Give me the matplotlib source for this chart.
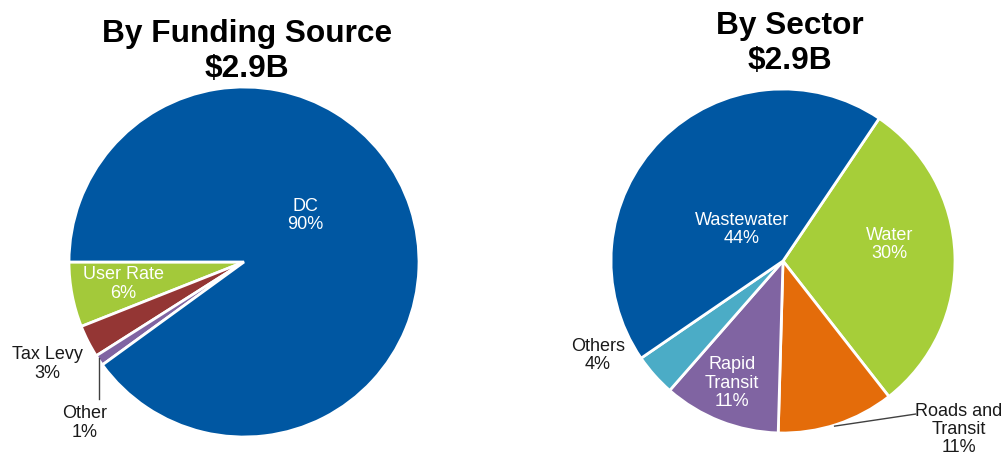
import matplotlib
matplotlib.use("Agg")
import matplotlib.pyplot as plt

plt.rcParams['font.family'] = ['Liberation Sans', 'DejaVu Sans']

# ---- data ----
fund_labels = ["User Rate", "Tax Levy", "Other", "DC"]
fund_values = [6, 3, 1, 90]
fund_colors = ["#A3C93A", "#943634", "#8064A2", "#0057A2"]

sector_labels = ["Water", "Roads and\nTransit", "Rapid\nTransit", "Others", "Wastewater"]
sector_values = [30, 11, 11, 4, 44]
sector_colors = ["#A6CE39", "#E46C0A", "#8064A2", "#4BACC6", "#0057A2"]

title_left = "By Funding Source"
title_right = "By Sector"
total_text = "$2.9B"

W, H = 1003, 456
fig = plt.figure(figsize=(W / 100, H / 100), dpi=100)


def px_axes(cx, cy, r):
    return fig.add_axes([(cx - r) / W, (H - cy - r) / H, 2 * r / W, 2 * r / H])


FS = 13.0
wedge = dict(edgecolor="white", linewidth=2)

# ---- left pie ----
ax1 = px_axes(244, 263, 175)
ax1.pie(fund_values, colors=fund_colors, startangle=180, counterclock=True,
        radius=1, wedgeprops=wedge)
ax1.set_xlim(-1, 1)
ax1.set_ylim(-1, 1)
ax1.set_aspect("equal")
ax1.axis("off")

def lbl(ax, x, y, name, val, color):
    ax.text(x, y, f"{name}\n{val}%", ha="center", va="center", fontsize=FS,
            color=color, linespacing=1.1, clip_on=False)

lbl(ax1, 0.35, 0.27, fund_labels[3], fund_values[3], "white")
lbl(ax1, -0.69, -0.12, fund_labels[0], fund_values[0], "white")
lbl(ax1, -1.123, -0.577, fund_labels[1], fund_values[1], "#1a1a1a")
lbl(ax1, -0.91, -0.914, fund_labels[2], fund_values[2], "#1a1a1a")
ax1.plot([-0.83, -0.83], [-0.55, -0.78], color="#404040", lw=1, clip_on=False)

# ---- right pie ----
ax2 = px_axes(783, 262, 172)
ax2.pie(sector_values, colors=sector_colors, startangle=56, counterclock=False,
        radius=1, wedgeprops=wedge)
ax2.set_xlim(-1, 1)
ax2.set_ylim(-1, 1)
ax2.set_aspect("equal")
ax2.axis("off")

lbl(ax2, -0.24, 0.19, sector_labels[4], sector_values[4], "white")
lbl(ax2, 0.62, 0.10, sector_labels[0], sector_values[0], "white")
lbl(ax2, -0.297, -0.705, sector_labels[2], sector_values[2], "white")
lbl(ax2, -1.076, -0.545, sector_labels[3], sector_values[3], "#1a1a1a")
lbl(ax2, 1.02, -0.975, sector_labels[1], sector_values[1], "#1a1a1a")
ax2.plot([0.30, 0.77], [-0.96, -0.89], color="#404040", lw=1, clip_on=False)

# ---- titles ----
TFS = 22.8
fig.text(247 / W, 1 - 42 / H, title_left, ha="center", va="baseline",
         fontsize=TFS, fontweight="bold")
fig.text(247 / W, 1 - 77 / H, total_text, ha="center", va="baseline",
         fontsize=TFS, fontweight="bold")
fig.text(790 / W, 1 - 34 / H, title_right, ha="center", va="baseline",
         fontsize=TFS, fontweight="bold")
fig.text(790 / W, 1 - 69 / H, total_text, ha="center", va="baseline",
         fontsize=TFS, fontweight="bold")

fig.savefig("out.png", dpi=100, facecolor="white")
